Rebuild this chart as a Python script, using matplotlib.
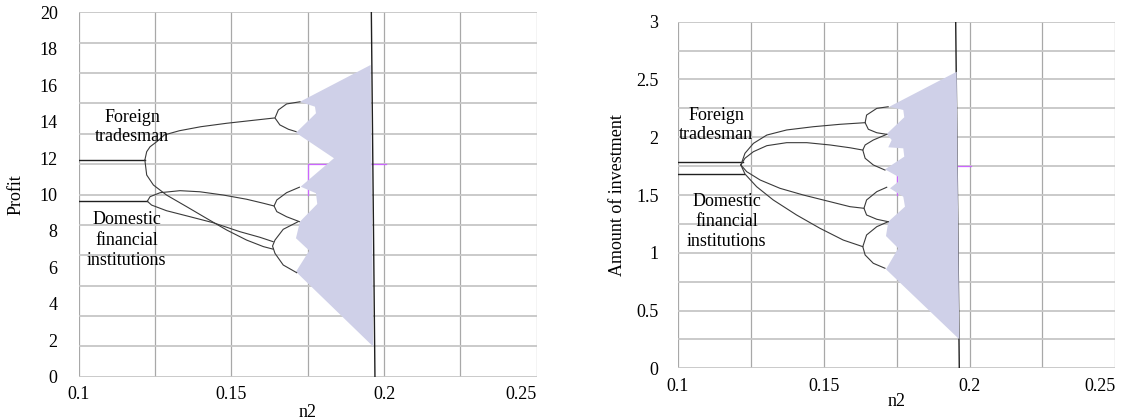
import matplotlib
matplotlib.use("Agg")
import matplotlib.pyplot as plt
import numpy as np

plt.rcParams['font.family'] = ['Liberation Serif', 'DejaVu Serif']

# ---- left panel: Profit ----
profit_ticks = [0, 2, 4, 6, 8, 10, 12, 14, 16, 18, 20]
profit_grid = [i * 20 / 12 for i in range(13)]

p_foreign_flat_x = [0.1, 0.1217]
p_foreign_flat_y = [11.89, 11.89]
p_domestic_flat_x = [0.1, 0.1225]
p_domestic_flat_y = [9.63, 9.63]

p_foreign_up_x = [0.1217, 0.1223, 0.1234, 0.1256, 0.1281, 0.1330, 0.1400, 0.1485, 0.1560, 0.1641]
p_foreign_up_y = [11.89, 12.35, 12.62, 12.90, 13.27, 13.50, 13.72, 13.91, 14.05, 14.20]
p_foreign_lo_x = [0.1217, 0.1223, 0.1245, 0.1288, 0.1354, 0.1419, 0.1485, 0.1550, 0.1605, 0.1637]
p_foreign_lo_y = [11.89, 11.07, 10.52, 9.97, 9.33, 8.69, 8.05, 7.50, 7.14, 7.00]
p_domestic_up_x = [0.1225, 0.1234, 0.1267, 0.1332, 0.1397, 0.1474, 0.1550, 0.1605, 0.1640]
p_domestic_up_y = [9.63, 9.88, 10.10, 10.21, 10.15, 9.97, 9.74, 9.52, 9.37]
p_domestic_lo_x = [0.1225, 0.1239, 0.1288, 0.1365, 0.1441, 0.1528, 0.1594, 0.1637]
p_domestic_lo_y = [9.63, 9.42, 9.11, 8.78, 8.45, 7.96, 7.65, 7.41]

p_fork1_x = [0.1725, 0.1681, 0.1654, 0.1643, 0.1659, 0.1687, 0.1712]
p_fork1_y = [15.09, 14.97, 14.64, 14.20, 13.82, 13.58, 13.45]
p_fork2_x = [0.1723, 0.1681, 0.1649, 0.1640, 0.1649, 0.1681, 0.1723]
p_fork2_y = [10.40, 10.10, 9.70, 9.37, 9.06, 8.78, 8.51]
p_fork3_x = [0.1719, 0.1670, 0.1643, 0.1635, 0.1643, 0.1670, 0.1714]
p_fork3_y = [8.51, 8.09, 7.50, 7.17, 6.77, 6.13, 5.71]

p_chaos_x = [0.19562, 0.17248, 0.17739, 0.17772, 0.17117, 0.18361, 0.17271,
             0.17772, 0.17814, 0.17248, 0.17117, 0.17552, 0.17117, 0.19648]
p_chaos_y = [17.11, 15.09, 14.82, 14.46, 13.39, 11.99, 10.43,
             10.07, 9.48, 8.51, 7.60, 6.92, 5.76, 1.65]

p_vline_x = [0.19585, 0.19703]
p_vline_y = [20, 0]
p_mag_x = [0.175, 0.175, 0.2005]
p_mag_y = [10.0, 11.67, 11.67]

# ---- right panel: Amount of investment ----
inv_ticks = [0, 0.5, 1, 1.5, 2, 2.5, 3]
inv_grid = [i * 0.25 for i in range(13)]

i_foreign_flat_x = [0.1, 0.1222]
i_foreign_flat_y = [1.788, 1.788]
i_domestic_flat_x = [0.1, 0.1227]
i_domestic_flat_y = [1.682, 1.682]

i_branch_a_x = [0.1216, 0.1230, 0.1259, 0.1305, 0.1373, 0.1464, 0.1556, 0.1642]
i_branch_a_y = [1.760, 1.861, 1.947, 2.019, 2.063, 2.091, 2.112, 2.126]
i_branch_b_x = [0.1216, 0.1230, 0.1259, 0.1305, 0.1373, 0.1442, 0.1522, 0.1590, 0.1634]
i_branch_b_y = [1.760, 1.818, 1.875, 1.927, 1.953, 1.953, 1.933, 1.909, 1.889]
i_branch_c_x = [0.1216, 0.1236, 0.1282, 0.1350, 0.1430, 0.1522, 0.1590, 0.1638]
i_branch_c_y = [1.760, 1.702, 1.630, 1.558, 1.500, 1.442, 1.399, 1.385]
i_branch_d_x = [0.1216, 0.1230, 0.1270, 0.1327, 0.1407, 0.1487, 0.1567, 0.1634]
i_branch_d_y = [1.760, 1.682, 1.572, 1.457, 1.327, 1.212, 1.110, 1.053]

i_fork1_x = [0.1721, 0.1682, 0.1647, 0.1642, 0.1653, 0.1682, 0.1716]
i_fork1_y = [2.264, 2.250, 2.192, 2.126, 2.069, 2.039, 2.025]
i_fork2_x = [0.1716, 0.1670, 0.1642, 0.1634, 0.1642, 0.1670, 0.1710]
i_fork2_y = [2.025, 1.976, 1.933, 1.889, 1.818, 1.760, 1.716]
i_fork3_x = [0.1716, 0.1682, 0.1647, 0.1638, 0.1647, 0.1682, 0.1721]
i_fork3_y = [1.567, 1.529, 1.457, 1.385, 1.327, 1.290, 1.269]
i_fork4_x = [0.1721, 0.1682, 0.1647, 0.1634, 0.1642, 0.1670, 0.1710]
i_fork4_y = [1.269, 1.226, 1.154, 1.053, 0.981, 0.909, 0.866]

i_chaos_x = [0.19559, 0.17248, 0.17728, 0.17762, 0.17159, 0.17330, 0.17214,
             0.17728, 0.17762, 0.17101, 0.17556, 0.17556, 0.17272, 0.17728,
             0.17786, 0.17214, 0.17135, 0.17556, 0.17135, 0.19648]
i_chaos_y = [2.567, 2.264, 2.236, 2.173, 2.028, 1.976, 1.913,
             1.904, 1.832, 1.722, 1.658, 1.615, 1.558, 1.485,
             1.399, 1.269, 1.145, 1.039, 0.857, 0.251]

i_vline_x = [0.19525, 0.19648]
i_vline_y = [3, 0]
i_mag_x = [0.175, 0.175, 0.2004]
i_mag_y = [1.5, 1.75, 1.75]

x_ticks = [0.1, 0.15, 0.2, 0.25]
x_grid = [0.1 + 0.025 * i for i in range(7)]

CURVE = '#3a3a3a'
FILL = '#cfd0e8'
FS = 13


def setup_axes(ax, ylim, yticks, ygrid, ylabel, ypad):
    ax.set_xlim(0.1, 0.25)
    ax.set_ylim(*ylim)
    for s in ax.spines.values():
        s.set_visible(False)
    for gx in x_grid:
        ax.axvline(gx, color='#a8a8a8', lw=0.9, zorder=0)
    for gy in ygrid:
        ax.axhline(gy, color='#c6c6c6', lw=1.3, zorder=0)
    ax.set_xticks(x_ticks)
    ax.set_xticklabels([f'{t:g}' for t in x_ticks])
    # last x label sits flush with the right edge, as in the original
    ax.get_xticklabels()[-1].set_ha('right')
    ax.set_yticks(yticks)
    ax.set_yticklabels([f'{t:g}' for t in yticks])
    ax.tick_params(axis='both', length=0, labelsize=FS)
    ax.tick_params(axis='y', pad=ypad)
    ax.tick_params(axis='x', pad=7)
    ax.set_xlabel('n2', fontsize=FS)
    ax.set_ylabel(ylabel, fontsize=FS)


fig = plt.figure(figsize=(11.21, 4.2), dpi=100)
ax1 = fig.add_axes([0.0701, 0.1031, 0.4087, 0.8676])
ax2 = fig.add_axes([0.6047, 0.1231, 0.3903, 0.8252])

# left
setup_axes(ax1, (0, 20), profit_ticks, profit_grid, 'Profit', 15)
ax1.plot(p_mag_x, p_mag_y, color='#cc66ff', lw=0.9, zorder=1)
ax1.plot(p_vline_x, p_vline_y, color='#202020', lw=1.0, zorder=2)
ax1.fill(p_chaos_x, p_chaos_y, color=FILL, lw=0, zorder=3)
for xs, ys in [(p_foreign_flat_x, p_foreign_flat_y), (p_domestic_flat_x, p_domestic_flat_y)]:
    ax1.plot(xs, ys, color='#202020', lw=1.0, zorder=4)
for xs, ys in [(p_foreign_up_x, p_foreign_up_y), (p_foreign_lo_x, p_foreign_lo_y),
               (p_domestic_up_x, p_domestic_up_y), (p_domestic_lo_x, p_domestic_lo_y),
               (p_fork1_x, p_fork1_y), (p_fork2_x, p_fork2_y), (p_fork3_x, p_fork3_y)]:
    ax1.plot(xs, ys, color=CURVE, lw=0.8, zorder=4)
ax1.text(0.1175, 13.72, 'Foreign\ntradesman', ha='center', va='center',
         fontsize=FS, linespacing=1.15, zorder=5)
ax1.text(0.1158, 7.50, 'Domestic\nfinancial\ninstitutions', ha='center', va='center',
         fontsize=FS, linespacing=1.25, zorder=5)
ax1.yaxis.set_label_coords(-0.137, 0.5)
ax1.xaxis.set_label_coords(0.5, -0.097)
ax1.xaxis.label.set_va('center')
ax1.yaxis.label.set_va('center')

# right
setup_axes(ax2, (0, 3), inv_ticks, inv_grid, 'Amount of investment', 14)
ax2.plot(i_mag_x, i_mag_y, color='#cc66ff', lw=0.9, zorder=1)
ax2.plot(i_vline_x, i_vline_y, color='#202020', lw=1.0, zorder=2)
ax2.fill(i_chaos_x, i_chaos_y, color=FILL, lw=0, zorder=3)
for xs, ys in [(i_foreign_flat_x, i_foreign_flat_y), (i_domestic_flat_x, i_domestic_flat_y)]:
    ax2.plot(xs, ys, color='#202020', lw=1.0, zorder=4)
for xs, ys in [(i_branch_a_x, i_branch_a_y), (i_branch_b_x, i_branch_b_y),
               (i_branch_c_x, i_branch_c_y), (i_branch_d_x, i_branch_d_y),
               (i_fork1_x, i_fork1_y), (i_fork2_x, i_fork2_y),
               (i_fork3_x, i_fork3_y), (i_fork4_x, i_fork4_y)]:
    ax2.plot(xs, ys, color=CURVE, lw=0.8, zorder=4)
ax2.text(0.1131, 2.108, 'Foreign\ntradesman', ha='center', va='center',
         fontsize=FS, linespacing=1.15, zorder=5)
ax2.text(0.1168, 1.272, 'Domestic\nfinancial\ninstitutions', ha='center', va='center',
         fontsize=FS, linespacing=1.25, zorder=5)
ax2.yaxis.set_label_coords(-0.139, 0.5)
ax2.xaxis.set_label_coords(0.5, -0.096)
ax2.xaxis.label.set_va('center')
ax2.yaxis.label.set_va('center')

fig.savefig('out.png', dpi=100)
